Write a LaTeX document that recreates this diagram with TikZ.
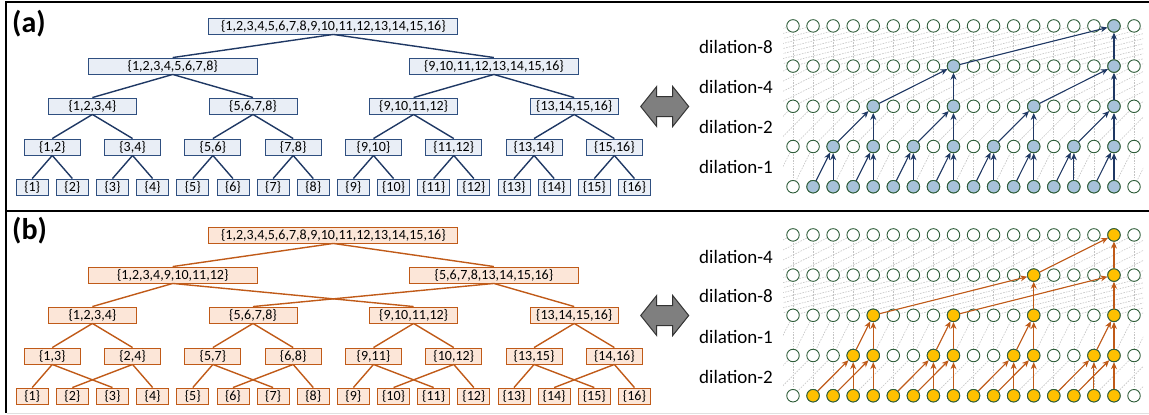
\documentclass[tikz,border=0pt]{standalone}
\usepackage{fontspec}
\setmainfont{Carlito}
\usetikzlibrary{arrows.meta}
\definecolor{navy}{HTML}{1F3864}
\definecolor{boxA}{HTML}{E9EEF6}
\definecolor{bordA}{HTML}{2F4F80}
\definecolor{orng}{HTML}{C05A18}
\definecolor{boxB}{HTML}{FCE6D8}
\definecolor{cgreen}{HTML}{2F5D3A}
\definecolor{fillA}{HTML}{A7C2DA}
\definecolor{fillB}{HTML}{FFC000}
\definecolor{dgray}{HTML}{C4C4C4}
\definecolor{agray}{HTML}{7F7F7F}
\tikzset{
 tb/.style={draw, line width=0.9pt, inner sep=0pt, minimum height=16pt, font=\fontsize{14}{16}\selectfont},
 tbA/.style={tb, draw=bordA, fill=boxA},
 tbB/.style={tb, draw=orng, fill=boxB},
 w0/.style={minimum width=249pt}, w1/.style={minimum width=169pt},
 w2/.style={minimum width=88pt}, w3/.style={minimum width=56pt}, w4/.style={minimum width=32pt},
 edA/.style={draw=navy, line width=1.4pt},
 edB/.style={draw=orng, line width=1.4pt},
 cell/.style={circle, draw=cgreen, line width=0.9pt, fill=white, minimum size=12.5pt, inner sep=0pt},
 cellA/.style={cell, fill=fillA},
 cellB/.style={cell, fill=fillB},
 arA/.style={draw=navy, line width=1.1pt, -{Stealth[length=7pt,width=6pt]}},
 arB/.style={draw=orng, line width=1.1pt, -{Stealth[length=7pt,width=6pt]}},
 bgline/.style={draw=dgray, line width=0.6pt, dash pattern=on 1.6pt off 1.2pt},
 lbl/.style={font=\fontsize{19}{22}\selectfont, anchor=west, inner sep=0pt},
 tag/.style={font=\fontsize{30}{34}\selectfont\bfseries, anchor=west, inner sep=0pt},
 dblarrow/.style={fill=agray, draw=black!80, line width=1pt, line join=miter},
 frame/.style={draw=black, line width=2pt}
}
\begin{document}
\begin{tikzpicture}[x=1pt,y=-1pt]
\useasboundingbox (0,0) rectangle (1149,415);
% frame
\draw[frame] (1149,2) -- (6,2) -- (6,413);
\draw[frame] (6,211) -- (1149,211);
\draw[draw=black!12, line width=1pt] (7,413) -- (1149,413);
\node[tag] (taga) at (12,24) {(a)};
\node[tag] (tagb) at (12,231) {(b)};

% ================= tree (a) =================
\node[tbA,w0] (a0) at (333.3,26) {\{1,2,3,4,5,6,7,8,9,10,11,12,13,14,15,16\}};
\node[tbA,w1] (a1-1) at (172.7,66) {\{1,2,3,4,5,6,7,8\}};
\node[tbA,w1] (a1-2) at (493.9,66) {\{9,10,11,12,13,14,15,16\}};
\node[tbA,w2] (a2-1) at (92.4,106) {\{1,2,3,4\}};
\node[tbA,w2] (a2-2) at (253.0,106) {\{5,6,7,8\}};
\node[tbA,w2] (a2-3) at (413.6,106) {\{9,10,11,12\}};
\node[tbA,w2] (a2-4) at (574.2,106) {\{13,14,15,16\}};
\foreach \k/\t in {1/{1,2},2/{3,4},3/{5,6},4/{7,8},5/{9,10},6/{11,12},7/{13,14},8/{15,16}}
  \node[tbA,w3] (a3-\k) at ({52.275+80.3*(\k-1)},147) {\{\t\}};
\foreach \i in {1,...,16}
  \node[tbA,w4] (a4-\i) at ({32.2+40.15*(\i-1)},187) {\{\i\}};
\draw[edA] (a0.south) -- (a1-1.north);
\draw[edA] (a0.south) -- (a1-2.north);
\foreach \p/\c in {1/1,1/2,2/3,2/4} \draw[edA] (a1-\p.south) -- (a2-\c.north);
\foreach \p in {1,...,4} {
  \pgfmathtruncatemacro\ca{2*\p-1}\pgfmathtruncatemacro\cb{2*\p}
  \draw[edA] (a2-\p.south) -- (a3-\ca.north);
  \draw[edA] (a2-\p.south) -- (a3-\cb.north);}
\foreach \p in {1,...,8} {
  \pgfmathtruncatemacro\ca{2*\p-1}\pgfmathtruncatemacro\cb{2*\p}
  \draw[edA] (a3-\p.south) -- (a4-\ca.north);
  \draw[edA] (a3-\p.south) -- (a4-\cb.north);}

% ================= tree (b) =================
\node[tbB,w0] (b0) at (333.3,235) {\{1,2,3,4,5,6,7,8,9,10,11,12,13,14,15,16\}};
\node[tbB,w1] (b1-1) at (172.7,275) {\{1,2,3,4,9,10,11,12\}};
\node[tbB,w1] (b1-2) at (493.9,275) {\{5,6,7,8,13,14,15,16\}};
\node[tbB,w2] (b2-1) at (92.4,315) {\{1,2,3,4\}};
\node[tbB,w2] (b2-2) at (253.0,315) {\{5,6,7,8\}};
\node[tbB,w2] (b2-3) at (413.6,315) {\{9,10,11,12\}};
\node[tbB,w2] (b2-4) at (574.2,315) {\{13,14,15,16\}};
\foreach \k/\t in {1/{1,3},2/{2,4},3/{5,7},4/{6,8},5/{9,11},6/{10,12},7/{13,15},8/{14,16}}
  \node[tbB,w3] (b3-\k) at ({52.275+80.3*(\k-1)},356) {\{\t\}};
\foreach \i in {1,...,16}
  \node[tbB,w4] (b4-\i) at ({32.2+40.15*(\i-1)},396) {\{\i\}};
\draw[edB] (b0.south) -- (b1-1.north);
\draw[edB] (b0.south) -- (b1-2.north);
\foreach \p/\c in {1/1,1/3,2/2,2/4} \draw[edB] (b1-\p.south) -- (b2-\c.north);
\foreach \p in {1,...,4} {
  \pgfmathtruncatemacro\ca{2*\p-1}\pgfmathtruncatemacro\cb{2*\p}
  \draw[edB] (b2-\p.south) -- (b3-\ca.north);
  \draw[edB] (b2-\p.south) -- (b3-\cb.north);}
\foreach \m in {1,...,4} {
  \pgfmathtruncatemacro\po{2*\m-1}\pgfmathtruncatemacro\pe{2*\m}
  \pgfmathtruncatemacro\la{4*\m-3}\pgfmathtruncatemacro\lb{4*\m-1}
  \pgfmathtruncatemacro\lc{4*\m-2}\pgfmathtruncatemacro\ld{4*\m}
  \draw[edB] (b3-\po.south) -- (b4-\la.north);
  \draw[edB] (b3-\po.south) -- (b4-\lb.north);
  \draw[edB] (b3-\pe.south) -- (b4-\lc.north);
  \draw[edB] (b3-\pe.south) -- (b4-\ld.north);}

% ================= double arrows =================
\foreach \cy/\nm in {106.5/da, 315.5/db}
  \draw[dblarrow] (664.7,\cy) ++(-24,0) -- ++(16,-20) -- ++(0,10) -- ++(16,0) -- ++(0,-10)
     -- ++(16,20) -- ++(-16,20) -- ++(0,-10) -- ++(-16,0) -- ++(0,10) -- cycle;

% ================= labels =================
\node[lbl] (la8) at (699,46.7) {dilation-8};
\node[lbl] (la4) at (699,87) {dilation-4};
\node[lbl] (la2) at (699,127) {dilation-2};
\node[lbl] (la1) at (699,167) {dilation-1};
\node[lbl] (lb4) at (699,256.5) {dilation-4};
\node[lbl] (lb8) at (699,295.5) {dilation-8};
\node[lbl] (lb1) at (699,337) {dilation-1};
\node[lbl] (lb2) at (699,376.5) {dilation-2};

% ================= grid (a) =================
\def\gx#1{793+20.06*(#1)}
\begin{scope}
\clip (783,20) rectangle (1143,192);
\foreach \r/\d in {0/1,1/2,2/4,3/8} {
  \pgfmathsetmacro\ya{186.7-40.2*\r}\pgfmathsetmacro\yb{186.7-40.2*(\r+1)}
  \foreach \j in {0,...,17} \draw[bgline] ({\gx{\j}},\ya) -- ({\gx{\j}},\yb);
  \foreach \j in {-8,...,26} \draw[bgline] ({\gx{\j-\d}},\ya) -- ({\gx{\j}},\yb);
}
\end{scope}
\foreach \r in {0,...,4} \foreach \j in {0,...,17}
  \node[cell] (ga-\r-\j) at ({\gx{\j}},{186.7-40.2*\r}) {};
\foreach \j in {1,...,16} \node[cellA] (ga-0-\j) at ({\gx{\j}},186.7) {};
\foreach \j in {2,4,...,16} \node[cellA] (ga-1-\j) at ({\gx{\j}},146.5) {};
\foreach \j in {4,8,12,16} \node[cellA] (ga-2-\j) at ({\gx{\j}},106.3) {};
\foreach \j in {8,16} \node[cellA] (ga-3-\j) at ({\gx{\j}},66.1) {};
\node[cellA] (ga-4-16) at ({\gx{16}},25.9) {};
\foreach \j in {2,4,...,16} {\pgfmathtruncatemacro\k{\j-1}
  \draw[arA] (ga-0-\k) -- (ga-1-\j); \draw[arA] (ga-0-\j) -- (ga-1-\j);}
\foreach \j in {4,8,12,16} {\pgfmathtruncatemacro\k{\j-2}
  \draw[arA] (ga-1-\k) -- (ga-2-\j); \draw[arA] (ga-1-\j) -- (ga-2-\j);}
\foreach \j in {8,16} {\pgfmathtruncatemacro\k{\j-4}
  \draw[arA] (ga-2-\k) -- (ga-3-\j); \draw[arA] (ga-2-\j) -- (ga-3-\j);}
\draw[arA] (ga-3-8) -- (ga-4-16); \draw[arA] (ga-3-16) -- (ga-4-16);

% ================= grid (b) =================
\begin{scope}
\clip (783,229) rectangle (1143,402);
\foreach \r/\d in {0/2,1/1,2/8,3/4} {
  \pgfmathsetmacro\ya{395.7-40.2*\r}\pgfmathsetmacro\yb{395.7-40.2*(\r+1)}
  \foreach \j in {0,...,17} \draw[bgline] ({\gx{\j}},\ya) -- ({\gx{\j}},\yb);
  \foreach \j in {-8,...,26} \draw[bgline] ({\gx{\j-\d}},\ya) -- ({\gx{\j}},\yb);
}
\end{scope}
\foreach \r in {0,...,4} \foreach \j in {0,...,17}
  \node[cell] (gb-\r-\j) at ({\gx{\j}},{395.7-40.2*\r}) {};
\foreach \j in {1,...,16} \node[cellB] (gb-0-\j) at ({\gx{\j}},395.7) {};
\foreach \j in {3,4,7,8,11,12,15,16} \node[cellB] (gb-1-\j) at ({\gx{\j}},355.5) {};
\foreach \j in {4,8,12,16} \node[cellB] (gb-2-\j) at ({\gx{\j}},315.3) {};
\foreach \j in {12,16} \node[cellB] (gb-3-\j) at ({\gx{\j}},275.1) {};
\node[cellB] (gb-4-16) at ({\gx{16}},234.9) {};
\foreach \j in {3,4,7,8,11,12,15,16} {\pgfmathtruncatemacro\k{\j-2}
  \draw[arB] (gb-0-\k) -- (gb-1-\j); \draw[arB] (gb-0-\j) -- (gb-1-\j);}
\foreach \j in {4,8,12,16} {\pgfmathtruncatemacro\k{\j-1}
  \draw[arB] (gb-1-\k) -- (gb-2-\j); \draw[arB] (gb-1-\j) -- (gb-2-\j);}
\foreach \j in {12,16} {\pgfmathtruncatemacro\k{\j-8}
  \draw[arB] (gb-2-\k) -- (gb-3-\j); \draw[arB] (gb-2-\j) -- (gb-3-\j);}
\draw[arB] (gb-3-12) -- (gb-4-16); \draw[arB] (gb-3-16) -- (gb-4-16);
\end{tikzpicture}
\end{document}
